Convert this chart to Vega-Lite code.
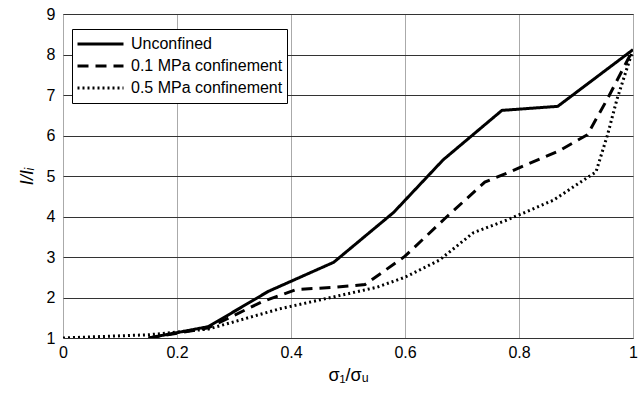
{
  "$schema": "https://vega.github.io/schema/vega-lite/v6.json",
  "autosize": {"type": "none"},
  "padding": {"left": 63, "top": 14, "right": 11, "bottom": 57},
  "width": 570,
  "height": 324,
  "background": "white",
  "config": {
    "font": "Liberation Sans",
    "view": {"stroke": "#555", "strokeWidth": 1}
  },
  "data": {
    "values": [
      {"s": "Unconfined", "x": 0.15, "y": 1.0},
      {"s": "Unconfined", "x": 0.255, "y": 1.28},
      {"s": "Unconfined", "x": 0.36, "y": 2.15},
      {"s": "Unconfined", "x": 0.475, "y": 2.87},
      {"s": "Unconfined", "x": 0.58, "y": 4.1},
      {"s": "Unconfined", "x": 0.667, "y": 5.4},
      {"s": "Unconfined", "x": 0.77, "y": 6.62},
      {"s": "Unconfined", "x": 0.868, "y": 6.72},
      {"s": "Unconfined", "x": 1.0, "y": 8.12},
      {"s": "0.1 MPa confinement", "x": 0.15, "y": 1.0},
      {"s": "0.1 MPa confinement", "x": 0.255, "y": 1.25},
      {"s": "0.1 MPa confinement", "x": 0.35, "y": 1.9},
      {"s": "0.1 MPa confinement", "x": 0.41, "y": 2.2},
      {"s": "0.1 MPa confinement", "x": 0.475, "y": 2.25},
      {"s": "0.1 MPa confinement", "x": 0.53, "y": 2.32},
      {"s": "0.1 MPa confinement", "x": 0.6, "y": 3.02},
      {"s": "0.1 MPa confinement", "x": 0.67, "y": 3.95},
      {"s": "0.1 MPa confinement", "x": 0.74, "y": 4.85},
      {"s": "0.1 MPa confinement", "x": 0.77, "y": 5.02},
      {"s": "0.1 MPa confinement", "x": 0.87, "y": 5.62},
      {"s": "0.1 MPa confinement", "x": 0.92, "y": 6.02},
      {"s": "0.1 MPa confinement", "x": 0.955, "y": 6.9},
      {"s": "0.1 MPa confinement", "x": 1.0, "y": 8.12},
      {"s": "0.5 MPa confinement", "x": 0.0, "y": 1.0},
      {"s": "0.5 MPa confinement", "x": 0.15, "y": 1.08},
      {"s": "0.5 MPa confinement", "x": 0.255, "y": 1.22},
      {"s": "0.5 MPa confinement", "x": 0.38, "y": 1.72},
      {"s": "0.5 MPa confinement", "x": 0.47, "y": 2.0},
      {"s": "0.5 MPa confinement", "x": 0.55, "y": 2.25},
      {"s": "0.5 MPa confinement", "x": 0.6, "y": 2.5},
      {"s": "0.5 MPa confinement", "x": 0.66, "y": 2.92},
      {"s": "0.5 MPa confinement", "x": 0.72, "y": 3.6},
      {"s": "0.5 MPa confinement", "x": 0.78, "y": 3.92},
      {"s": "0.5 MPa confinement", "x": 0.86, "y": 4.4},
      {"s": "0.5 MPa confinement", "x": 0.935, "y": 5.1},
      {"s": "0.5 MPa confinement", "x": 0.955, "y": 6.0},
      {"s": "0.5 MPa confinement", "x": 0.972, "y": 6.9},
      {"s": "0.5 MPa confinement", "x": 1.0, "y": 8.12}
    ]
  },
  "mark": {"type": "line", "color": "black", "strokeWidth": 3, "clip": true},
  "encoding": {
    "x": {
      "field": "x", "type": "quantitative",
      "scale": {"domain": [0, 1], "nice": false},
      "axis": {
        "title": "σ₁/σᵤ", "titleFontSize": 18, "titleFontWeight": "normal", "titlePadding": 6,
        "values": [0, 0.2, 0.4, 0.6, 0.8, 1],
        "labelExpr": "datum.value == 0 ? '0' : datum.value == 1 ? '1' : format(datum.value, '.1f')",
        "labelFontSize": 16, "labelColor": "black", "labelPadding": 6, "labelFlush": false,
        "domain": false, "ticks": false,
        "grid": true, "gridColor": "#aaa", "gridWidth": 1
      }
    },
    "y": {
      "field": "y", "type": "quantitative",
      "scale": {"domain": [1, 9], "nice": false},
      "axis": {
        "title": "I/Iᵢ", "titleFontSize": 18, "titleFontWeight": "normal", "titleFontStyle": "italic", "titlePadding": 10,
        "values": [1, 2, 3, 4, 5, 6, 7, 8, 9],
        "labelFontSize": 16, "labelColor": "black", "labelPadding": 8,
        "domain": false, "ticks": false,
        "grid": true, "gridColor": "#333", "gridWidth": 1
      }
    },
    "strokeDash": {
      "field": "s", "type": "nominal",
      "scale": {
        "domain": ["Unconfined", "0.1 MPa confinement", "0.5 MPa confinement"],
        "range": [[1, 0], [11, 7], [2, 3]]
      },
      "legend": {
        "title": null,
        "orient": "none", "legendX": 9, "legendY": 15,
        "fillColor": "white", "strokeColor": "black", "padding": 4,
        "symbolType": "stroke", "symbolSize": 2116, "symbolStrokeWidth": 3, "symbolStrokeColor": "black",
        "clipHeight": 22,
        "labelFontSize": 16, "labelColor": "black", "rowPadding": 0, "labelOffset": 6
      }
    }
  }
}
